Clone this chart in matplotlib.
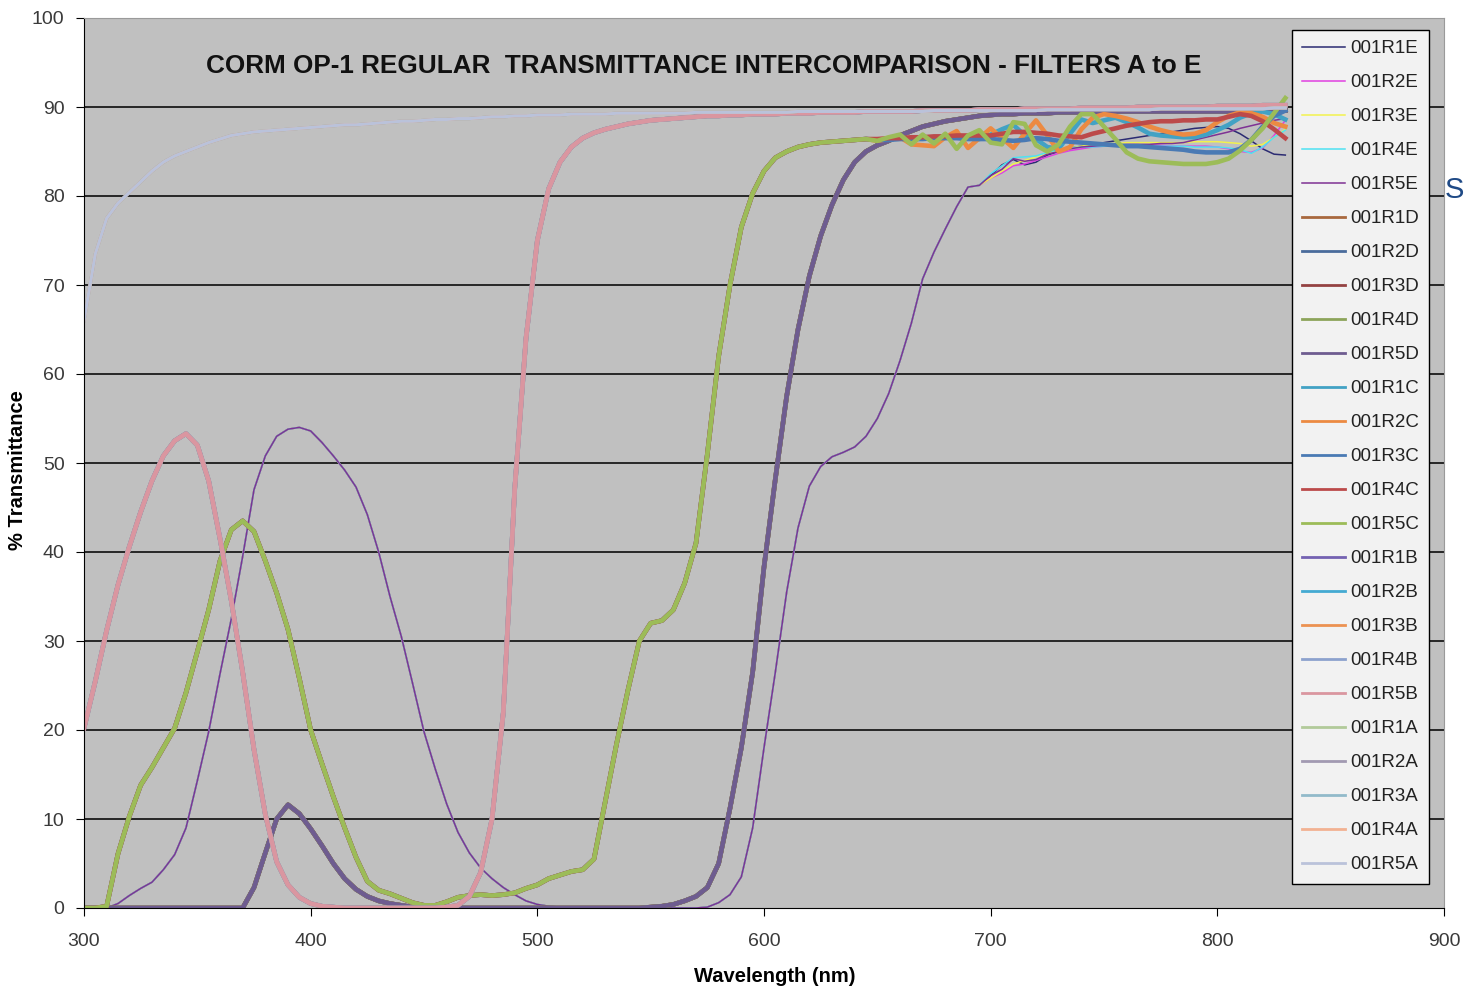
import numpy as np
import matplotlib
matplotlib.use('Agg')
import matplotlib.pyplot as plt

plt.rcParams['font.family'] = ['Liberation Sans', 'DejaVu Sans']

# Wavelength grid (nm), 5 nm steps
wavelength = np.arange(300, 835, 5)

# Filter A - all five replicates overlap
trans_a = [
    66.0, 73.5, 77.5, 79.2, 80.4, 81.6, 82.8, 83.8, 84.5, 85.0,
    85.5, 86.0, 86.4, 86.8, 87.0, 87.2, 87.3, 87.4, 87.5, 87.6,
    87.7, 87.8, 87.9, 88.0, 88.0, 88.1, 88.2, 88.3, 88.4, 88.4,
    88.5, 88.6, 88.6, 88.7, 88.7, 88.8, 88.9, 88.9, 89.0, 89.0,
    89.1, 89.1, 89.1, 89.2, 89.2, 89.2, 89.2, 89.3, 89.3, 89.3,
    89.3, 89.3, 89.3, 89.3, 89.4, 89.4, 89.4, 89.4, 89.4, 89.4,
    89.4, 89.4, 89.4, 89.5, 89.5, 89.5, 89.5, 89.5, 89.5, 89.5,
    89.5, 89.5, 89.5, 89.5, 89.5, 89.6, 89.6, 89.6, 89.6, 89.6,
    89.6, 89.6, 89.6, 89.6, 89.6, 89.7, 89.7, 89.7, 89.7, 89.7,
    89.7, 89.7, 89.7, 89.7, 89.7, 89.8, 89.8, 89.8, 89.8, 89.8,
    89.8, 89.8, 89.8, 89.8, 89.8, 89.9, 89.9,
]

# Filter B
trans_b = [
    20.2, 25.5, 31.2, 36.3, 40.6, 44.5, 48.0, 50.8, 52.5, 53.3,
    52.0, 48.0, 41.5, 34.5, 26.5, 17.8, 10.5, 5.2, 2.6, 1.2,
    0.5, 0.2, 0.1, 0.0, 0.0, 0.0, 0.0, 0.0, 0.0, 0.0,
    0.0, 0.0, 0.1, 0.3, 1.3, 4.0, 10.0, 22.0, 47.0, 64.0,
    75.0, 80.8, 83.8, 85.5, 86.5, 87.1, 87.5, 87.8, 88.1, 88.3,
    88.5, 88.6, 88.7, 88.8, 88.9, 89.0, 89.0, 89.1, 89.1, 89.2,
    89.2, 89.2, 89.3, 89.3, 89.3, 89.4, 89.4, 89.4, 89.4, 89.5,
    89.5, 89.5, 89.5, 89.5, 89.6, 89.6, 89.6, 89.6, 89.6, 89.7,
    89.7, 89.7, 89.7, 89.8, 89.8, 89.8, 89.8, 89.8, 89.9, 89.9,
    89.9, 89.9, 89.9, 90.0, 90.0, 90.0, 90.0, 90.0, 90.0, 90.0,
    90.1, 90.1, 90.1, 90.1, 90.2, 90.2, 90.2,
]

# Filter C, 300-645 nm (replicates agree here)
trans_c = [
    0.0, 0.0, 0.2, 6.1, 10.3, 13.8, 15.8, 18.0, 20.2, 24.2,
    28.8, 33.5, 39.0, 42.5, 43.5, 42.3, 39.0, 35.4, 31.3, 25.8,
    20.0, 16.2, 12.5, 9.0, 5.7, 3.0, 2.0, 1.6, 1.1, 0.6,
    0.3, 0.3, 0.7, 1.2, 1.4, 1.5, 1.4, 1.5, 1.7, 2.2,
    2.6, 3.3, 3.7, 4.1, 4.3, 5.5, 12.0, 18.5, 24.5, 30.0,
    32.0, 32.3, 33.5, 36.5, 41.0, 51.0, 62.0, 70.0, 76.5, 80.3,
    82.8, 84.3, 85.0, 85.5, 85.8, 86.0, 86.1, 86.2, 86.3, 86.4,
]
# Filter C replicates, 650-830 nm
c_r1 = [86.3, 86.4, 86.5, 86.5, 86.6, 86.6, 86.7, 86.8, 86.5, 86.4,
        86.9, 87.5, 88.0, 86.8, 86.4, 85.5, 85.3, 87.0, 88.6, 88.2,
        88.5, 88.8, 88.3, 87.7, 87.0, 86.8, 86.7, 86.6, 86.6, 86.9,
        87.4, 88.0, 88.8, 89.3, 89.5, 89.2, 88.6]
c_r2 = [86.2, 86.4, 86.6, 85.8, 85.7, 85.6, 86.6, 87.3, 85.4, 86.5,
        87.6, 86.5, 85.4, 87.0, 88.5, 86.8, 85.0, 85.5, 87.5, 88.8,
        89.2, 89.0, 88.7, 88.3, 87.8, 87.4, 87.1, 86.9, 87.0, 87.4,
        88.3, 89.0, 89.4, 89.3, 88.9, 88.2, 87.8]
c_r3 = [86.3, 86.3, 86.4, 86.4, 86.4, 86.5, 86.5, 86.5, 86.4, 86.4,
        86.4, 86.3, 86.2, 86.3, 86.5, 86.4, 86.2, 86.1, 86.0, 85.9,
        85.8, 85.7, 85.6, 85.6, 85.5, 85.4, 85.3, 85.2, 85.0, 84.9,
        84.9, 84.9, 85.3, 86.3, 87.8, 89.0, 89.6]
c_r4 = [86.4, 86.5, 86.5, 86.6, 86.6, 86.7, 86.7, 86.8, 86.8, 86.8,
        86.8, 87.0, 87.2, 87.2, 87.1, 87.0, 86.8, 86.7, 86.6, 87.0,
        87.3, 87.6, 87.9, 88.1, 88.3, 88.4, 88.4, 88.5, 88.5, 88.6,
        88.6, 88.9, 89.2, 89.0, 88.4, 87.5, 86.5]
c_r5 = [86.2, 86.6, 86.9, 85.8, 86.9, 85.9, 87.0, 85.3, 86.8, 87.4,
        86.0, 85.8, 88.3, 88.1, 85.7, 85.0, 85.8, 87.8, 89.2, 89.2,
        87.8, 86.4, 84.9, 84.2, 83.9, 83.8, 83.7, 83.6, 83.6, 83.6,
        83.8, 84.2, 85.1, 86.3, 87.6, 89.3, 91.0]

# Filter D - all five replicates overlap
trans_d = [
    0.0, 0.0, 0.0, 0.0, 0.0, 0.0, 0.0, 0.0, 0.0, 0.0,
    0.0, 0.0, 0.0, 0.0, 0.0, 2.3, 6.2, 10.0, 11.6, 10.6,
    8.9, 7.0, 5.0, 3.3, 2.1, 1.3, 0.8, 0.5, 0.3, 0.1,
    0.0, 0.0, 0.0, 0.0, 0.0, 0.0, 0.0, 0.0, 0.0, 0.0,
    0.0, 0.0, 0.0, 0.0, 0.0, 0.0, 0.0, 0.0, 0.0, 0.0,
    0.1, 0.2, 0.4, 0.8, 1.3, 2.3, 5.0, 11.2, 18.0, 26.5,
    38.3, 48.2, 57.5, 65.0, 71.0, 75.5, 79.0, 81.8, 83.8, 85.0,
    85.7, 86.2, 86.8, 87.3, 87.8, 88.1, 88.4, 88.6, 88.8, 89.0,
    89.1, 89.2, 89.2, 89.3, 89.3, 89.3, 89.4, 89.4, 89.4, 89.4,
    89.5, 89.5, 89.5, 89.5, 89.5, 89.5, 89.5, 89.5, 89.5, 89.5,
    89.5, 89.5, 89.6, 89.6, 89.6, 89.6, 89.6,
]

# Filter E, 300-695 nm (replicates agree here)
trans_e = [
    0.0, 0.0, 0.0, 0.5, 1.4, 2.2, 2.9, 4.3, 6.0, 9.0,
    14.3, 19.8, 26.3, 32.5, 39.5, 47.0, 50.8, 53.0, 53.8, 54.0,
    53.6, 52.3, 50.8, 49.2, 47.3, 44.2, 40.0, 35.0, 30.5, 25.2,
    19.8, 15.6, 11.7, 8.5, 6.2, 4.5, 3.3, 2.3, 1.5, 0.8,
    0.4, 0.2, 0.1, 0.0, 0.0, 0.0, 0.0, 0.0, 0.0, 0.0,
    0.0, 0.0, 0.0, 0.0, 0.0, 0.1, 0.6, 1.5, 3.5, 9.0,
    18.0, 26.5, 35.5, 42.7, 47.4, 49.6, 50.7, 51.2, 51.8, 53.0,
    55.0, 57.8, 61.5, 65.7, 70.7, 73.7, 76.3, 78.8, 81.0, 81.2,
]
# Filter E replicates, 700-830 nm
e_r1 = [82.3, 83.5, 84.1, 83.5, 83.8, 84.6, 85.0, 85.4, 85.6, 85.8,
        86.0, 86.2, 86.4, 86.6, 86.8, 87.0, 87.2, 87.4, 87.6, 87.7,
        87.8, 87.6, 87.0, 86.2, 85.3, 84.7, 84.6]
e_r2 = [82.0, 82.6, 83.4, 83.6, 84.0, 84.4, 84.8, 85.1, 85.3, 85.5,
        85.6, 85.7, 85.7, 85.7, 85.7, 85.7, 85.6, 85.6, 85.6, 85.6,
        85.5, 85.3, 85.0, 84.9, 85.4, 86.8, 88.5]
e_r3 = [82.0, 82.8, 83.6, 84.0, 84.4, 84.8, 85.1, 85.4, 85.6, 85.8,
        85.9, 85.9, 86.0, 86.0, 86.0, 86.0, 86.0, 86.0, 86.1, 86.1,
        86.1, 86.0, 85.9, 85.6, 85.8, 86.6, 87.5]
e_r4 = [82.5, 83.4, 84.3, 84.4, 84.5, 84.9, 85.2, 85.4, 85.5, 85.5,
        85.6, 85.6, 85.6, 85.6, 85.6, 85.6, 85.6, 85.6, 85.5, 85.5,
        85.5, 85.4, 85.2, 84.8, 85.5, 86.6, 87.4]
e_r5 = [82.3, 83.0, 84.2, 83.9, 84.1, 84.7, 85.0, 85.3, 85.5, 85.6,
        85.7, 85.7, 85.8, 85.8, 85.8, 85.9, 85.9, 86.0, 86.3, 86.6,
        86.9, 87.2, 87.6, 87.9, 88.2, 88.5, 88.7]

labels = [f'001R{r}{f}' for f in 'EDCBA' for r in range(1, 6)]
colors = [
    '#2B2B72', '#E040E0', '#F2F24E', '#4EE2F2', '#7E3294',   # E
    '#A8683E', '#4A6C9C', '#944242', '#8CA45A', '#6E5C90',   # D
    '#42A2C4', '#EC8A42', '#4A7AB4', '#BC4A4A', '#9CBC58',   # C
    '#7462B2', '#44AAD2', '#EC9252', '#8CA2CE', '#DA96A0',   # B
    '#B2CA9A', '#A29AB2', '#92BACA', '#F2B292', '#BAC2DA',   # A
]
widths = [1.1] * 5 + [3.3] * 15 + [2.2] * 5

curves = (
    [np.concatenate([trans_e, t]) for t in (e_r1, e_r2, e_r3, e_r4, e_r5)]
    + [np.array(trans_d)] * 5
    + [np.concatenate([trans_c, t]) for t in (c_r1, c_r2, c_r3, c_r4, c_r5)]
    + [np.array(trans_b)] * 5
    + [np.array(trans_a)] * 5
)

fig = plt.figure(figsize=(14.64, 9.9), dpi=100)
ax = fig.add_axes([84 / 1464, 82 / 990, 1360 / 1464, 890 / 990])
ax.set_facecolor('#C0C0C0')

for y, lab, col, lw in zip(curves, labels, colors, widths):
    ax.plot(wavelength, y, color=col, lw=lw, label=lab, solid_joinstyle='round')

ax.set_xlim(300, 900)
ax.set_ylim(0, 100)
ax.set_xticks(range(300, 901, 100))
ax.set_yticks(range(0, 101, 10))
for v in range(10, 100, 10):
    ax.axhline(v, color='#1A1A1A', lw=1.3, zorder=0.5)

ax.spines['left'].set_color('black')
ax.spines['bottom'].set_color('black')
ax.spines['top'].set_color('#9A9A9A')
ax.spines['right'].set_color('#9A9A9A')
ax.tick_params(axis='both', direction='out', length=6, color='black',
               labelsize=14, labelcolor='#3A3A3A')
ax.tick_params(axis='x', pad=12)
ax.tick_params(axis='y', pad=8)

ax.set_xlabel('Wavelength (nm)', fontsize=14.5, fontweight='bold')
ax.set_ylabel('% Transmittance', fontsize=14.5, fontweight='bold')
ax.xaxis.set_label_coords(0.508, -0.066)
ax.yaxis.set_label_coords(-0.042, 0.492)

ax.text(0.4555, 0.9465, 'CORM OP-1 REGULAR  TRANSMITTANCE INTERCOMPARISON - FILTERS A to E',
        transform=ax.transAxes, ha='center', va='center',
        fontsize=18.8, fontweight='bold', color='#111111')

leg = ax.legend(loc='upper left', bbox_to_anchor=(0.888, 0.9865),
                borderaxespad=0, fontsize=13.5, labelspacing=0.9,
                handlelength=2.3, handletextpad=0.25, borderpad=0.55,
                frameon=True, fancybox=False, edgecolor='black',
                facecolor='#F2F2F2', framealpha=1.0)
leg.get_frame().set_linewidth(1.0)
for h in leg.get_lines():
    h.set_linewidth(min(h.get_linewidth(), 2.0))
for t in leg.get_texts():
    t.set_color('#222222')

fig.text(1445 / 1464, 1 - 190 / 990, 'S', fontsize=21, color='#1F4A86',
         ha='left', va='center')

fig.savefig('out.png', dpi=100)
